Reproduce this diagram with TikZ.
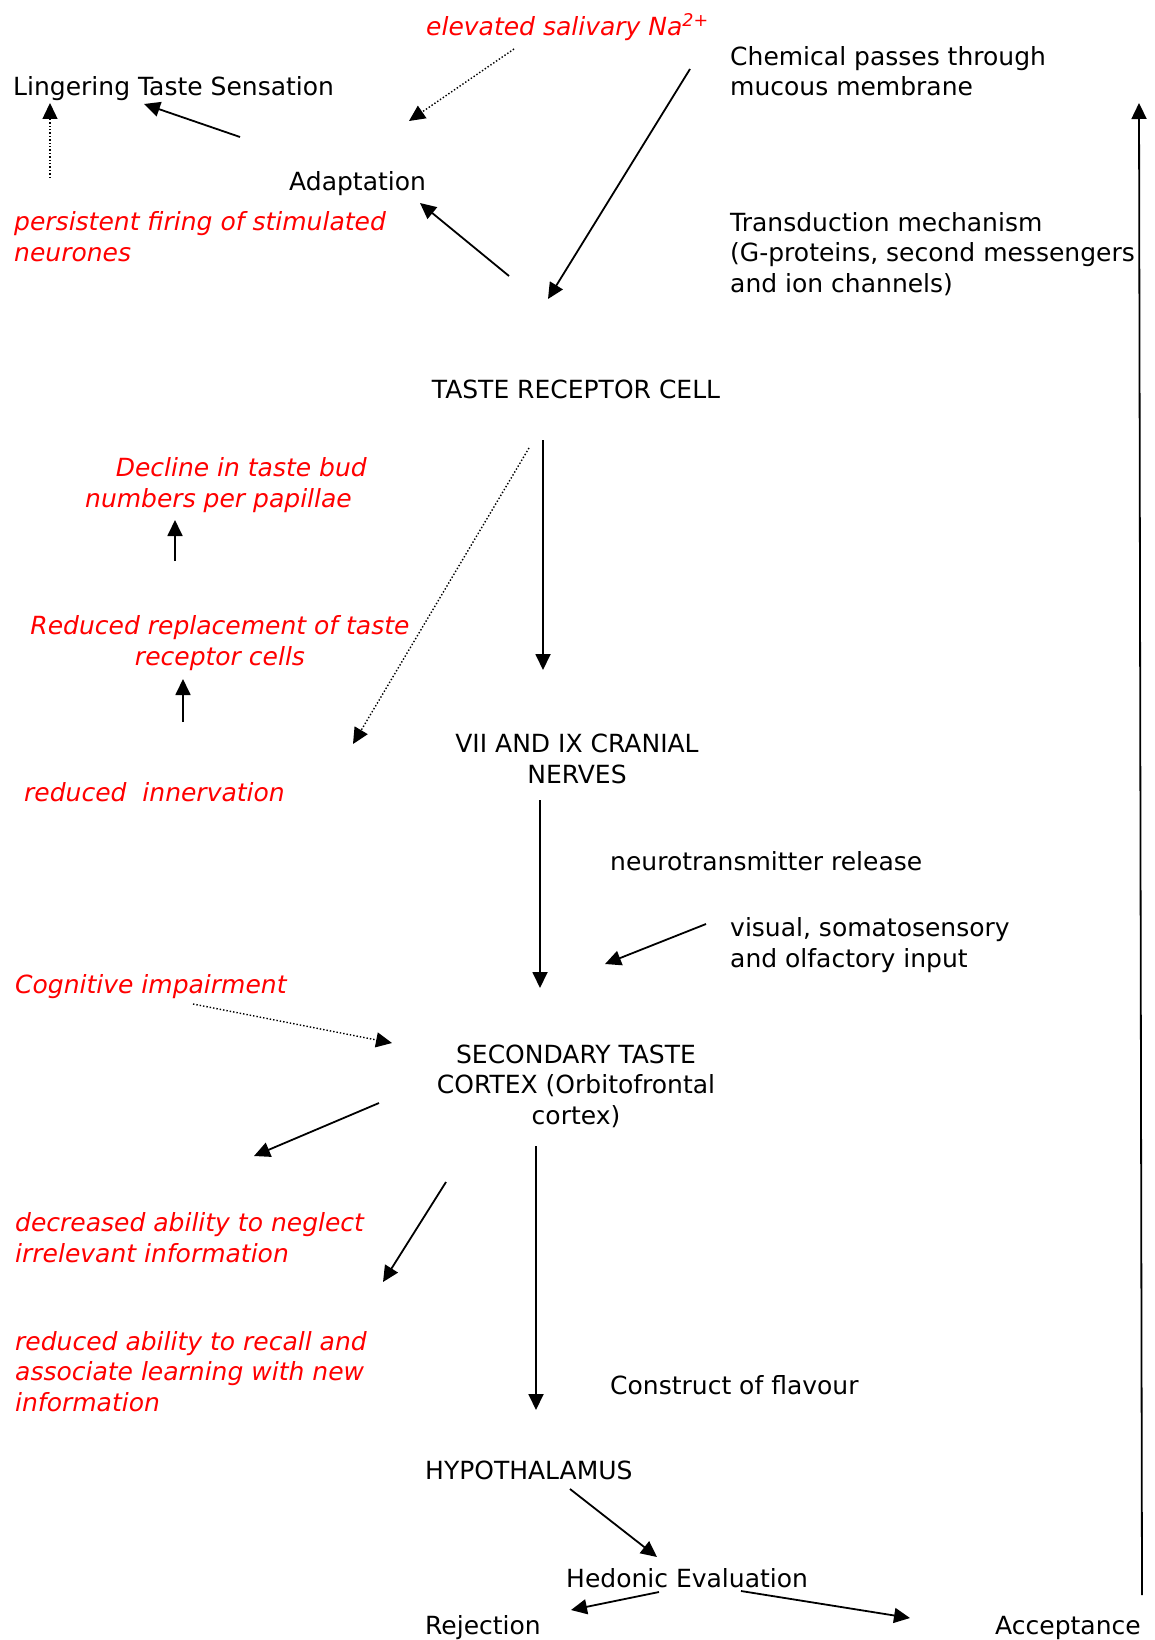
\documentclass[tikz,border=0pt]{standalone}
\usepackage{fontspec}
\setmainfont{DejaVu Sans}
\usetikzlibrary{arrows.meta}

\begin{document}
\begin{tikzpicture}[x=1pt,y=-1pt,
    testo/.style={inner sep=0pt, font=\fontsize{25}{30.3}\selectfont, align=left},
    rosso/.style={testo, text=red, font=\fontsize{25}{30.3}\selectfont\itshape},
    freccia/.style={line width=1.8pt, -{Triangle[length=16pt,width=15pt]}},
    puntini/.style={line width=1.4pt, dotted, -{Triangle[length=16pt,width=15pt]}}]

\useasboundingbox (0,0) rectangle (1154,1640); % pagina

% Testi in alto (base = ultima riga)
\node[rosso, anchor=base west] (sodio) at (426,36) {elevated salivary Na\textsuperscript{2+}};
\node[testo, anchor=base west] (chim) at (730,96) {Chemical passes through\\mucous membrane};
\node[testo, anchor=base west] (ling) at (13,96) {Lingering Taste Sensation};
\node[testo, anchor=base west] (adat) at (289,191) {Adaptation};
\node[rosso, anchor=base west] (pers) at (14,261) {persistent firing of stimulated\\neurones};
\node[testo, anchor=base west] (trasd) at (730,292) {Transduction mechanism\\(G-proteins, second messengers\\and ion channels)};
\node[testo, anchor=base] (recett) at (576,398) {TASTE RECEPTOR CELL};

% Colonna sinistra
\node[rosso, anchor=base east, align=right] (declino) at (367,507) {Decline in taste bud\\numbers per papillae\hspace*{15pt}};
\node[rosso, anchor=base, align=center] (ricambio) at (220,665) {Reduced replacement of taste\\receptor cells};
\node[rosso, anchor=base west] (innerv) at (24,801) {reduced\ \ innervation};

\node[testo, anchor=base, align=center] (nervi) at (577,783) {VII AND IX CRANIAL\\NERVES};
\node[testo, anchor=base west] (neurot) at (610,870) {neurotransmitter release};
\node[testo, anchor=base west] (visivo) at (730,967) {visual, somatosensory\\and olfactory input};
\node[rosso, anchor=base west] (cogn) at (15,993) {Cognitive impairment};
\node[testo, anchor=base, align=center] (cortex) at (576,1124) {SECONDARY TASTE\\CORTEX (Orbitofrontal\\cortex)};
\node[rosso, anchor=base west] (trascura) at (15,1262) {decreased ability to neglect\\irrelevant information};
\node[rosso, anchor=base west] (ricordo) at (15,1411) {reduced ability to recall and\\associate learning with new\\information};
\node[testo, anchor=base west] (sapore) at (610,1394) {Construct of flavour};
\node[testo, anchor=base west] (ipot) at (425,1479) {HYPOTHALAMUS};
\node[testo, anchor=base west] (edon) at (566,1587) {Hedonic Evaluation};
\node[testo, anchor=base west] (rifiuto) at (425,1634) {Rejection};
\node[testo, anchor=base west] (accett) at (995,1634) {Acceptance};

% Estremi delle frecce
\coordinate (sodioA) at (514,49);   \coordinate (sodioB) at (409,121);
\coordinate (chimA) at (690,69);    \coordinate (chimB) at (548,299);
\coordinate (adatA) at (240,137);   \coordinate (adatB) at (144,104);
\coordinate (persA) at (50,178);    \coordinate (persB) at (50,103);
\coordinate (recA) at (509,276);    \coordinate (recB) at (420,203);
\coordinate (giuA) at (543,440);    \coordinate (giuB) at (543,670);
\coordinate (innA) at (529,448);    \coordinate (innB) at (353,744);
\coordinate (su1A) at (175,561);    \coordinate (su1B) at (175,520);
\coordinate (su2A) at (183,722);    \coordinate (su2B) at (183,679);
\coordinate (nerA) at (540,800);    \coordinate (nerB) at (540,988);
\coordinate (visA) at (706,924);    \coordinate (visB) at (605,964);
\coordinate (cogA) at (193,1004);   \coordinate (cogB) at (392,1043);
\coordinate (corA) at (379,1103);   \coordinate (corB) at (254,1156);
\coordinate (corC) at (446,1182);   \coordinate (corD) at (383,1282);
\coordinate (corE) at (536,1146);   \coordinate (corF) at (536,1410);
\coordinate (ipA) at (570,1489);    \coordinate (ipB) at (657,1557);
\coordinate (riA) at (659,1592);    \coordinate (riB) at (571,1610);
\coordinate (acA) at (741,1591);    \coordinate (acB) at (910,1618);
\coordinate (lungA) at (1142,1595); \coordinate (lungB) at (1139,103);

% Frecce
\draw[puntini] (sodioA) -- (sodioB); % sodio -> adattamento
\draw[freccia] (chimA) -- (chimB);
\draw[freccia] (adatA) -- (adatB);
\draw[puntini] (persA) -- (persB);
\draw[freccia] (recA) -- (recB);
\draw[freccia] (giuA) -- (giuB); % cellula -> nervi
\draw[puntini] (innA) -- (innB);
\draw[freccia] (su1A) -- (su1B);
\draw[freccia] (su2A) -- (su2B);
\draw[freccia] (nerA) -- (nerB); % nervi -> corteccia
\draw[freccia] (visA) -- (visB);
\draw[puntini] (cogA) -- (cogB);
\draw[freccia] (corA) -- (corB);
\draw[freccia] (corC) -- (corD);
\draw[freccia] (corE) -- (corF); % corteccia -> ipotalamo
\draw[freccia] (ipA) -- (ipB);
\draw[freccia] (riA) -- (riB);
\draw[freccia] (acA) -- (acB);
\draw[freccia] (lungA) -- (lungB); % ritorno

\end{tikzpicture}
\end{document}
